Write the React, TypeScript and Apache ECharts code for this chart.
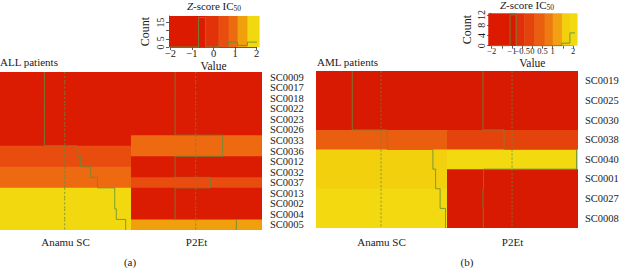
import React, { useEffect, useRef } from 'react';
import * as echarts from 'echarts';

// ---------- data ----------
const columns = ['Anamu SC', 'P2Et'];

const allRows = ['SC0009', 'SC0017', 'SC0018', 'SC0022', 'SC0023', 'SC0026', 'SC0033', 'SC0036', 'SC0012', 'SC0032', 'SC0037', 'SC0013', 'SC0002', 'SC0004', 'SC0005'];
const allAnamu = [-0.65, -0.65, -0.65, -0.65, -0.65, -0.65, -0.65, 0.40, 0.51, 0.83, 1.05, 1.60, 1.60, 1.65, 1.95];
const allP2Et = [-0.66, -0.66, -0.66, -0.66, -0.66, -0.66, 0.86, 0.86, -0.66, -0.66, 0.47, -0.66, -0.66, -0.66, 1.30];

const amlRows = ['SC0019', 'SC0025', 'SC0030', 'SC0038', 'SC0040', 'SC0001', 'SC0027', 'SC0008'];
const amlAnamu = [-0.96, -0.96, -0.96, 0.21, 1.73, 1.82, 1.97, 2.15];
const amlP2Et = [-0.97, -0.97, -0.97, -0.27, 2.15, -0.95, -0.97, -0.96];

// colour key (breaks, colours, histogram counts, ticks)
const allKeyEdges = [-2.07, -0.7, -0.37, 0.23, 0.7, 1.12, 1.58, 2.12];
const allKeyColors = ['#dc1a00', '#dc1c02', '#e2320a', '#e84c0e', '#ed6a10', '#f0a00c', '#f2d80e'];
const allKeyCounts = [0, 18, 0, 1, 3, 1, 3];
const allValueTicks = [-2, -1, 0, 1, 2];
const allCountTicks = [0, 5, 10, 15];
const allCountLabels = [0, 5, 15];
const allCountMax = 18;

const amlKeyEdges = [-2.17, -1.1, -0.8, -0.4, 0.1, 0.6, 1.0, 1.45, 1.85, 2.2];
const amlKeyColors = ['#dc1a00', '#d81a02', '#e0300a', '#e4440c', '#ea5e10', '#ee7a12', '#f0a010', '#f2d00e', '#f3da10'];
const amlKeyCounts = [0, 12, 0, 0, 0, 0, 0, 1, 5];
const amlValueTicks = [-2, -1.5, -1, -0.5, 0, 0.5, 1, 1.5, 2];
const amlValueLabels = [-2, -1, -0.5, 0, 0.5, 1, 2];
const amlCountTicks = [0, 4, 8, 12];
const amlCountLabels = [0, 4, 8, 12];
const amlCountMax = 12;

// ---------- styling ----------
const FONT = "'Liberation Serif', 'DejaVu Serif', serif";
const TXT = '#1a1a1a';
const TRACE = '#5f8f3f';
const fmt = (v: number) => (v < 0 ? '\u2212' : '') + String(Math.abs(v));

function heatData(anamu: number[], p2et: number[]) {
  const d: number[][] = [];
  anamu.forEach((v, i) => d.push([0, i, v]));
  p2et.forEach((v, i) => d.push([1, i, v]));
  return d;
}

// cell + value of the next row in the same column (for the step trace)
function traceCells(anamu: number[], p2et: number[]) {
  const d: (number | null)[][] = [];
  [anamu, p2et].forEach((col, j) => {
    col.forEach((v, i) => d.push([j, i, v, i < col.length - 1 ? col[i + 1] : null]));
  });
  return d;
}

function keyBins(edges: number[]) {
  return edges.slice(0, -1).map((e, i) => [e, edges[i + 1], (e + edges[i + 1]) / 2]);
}

function histData(edges: number[], counts: number[]) {
  const d = counts.map((c, i) => [edges[i], c]);
  d.push([edges[edges.length - 1], counts[counts.length - 1]]);
  return d;
}

function pieces(edges: number[], colors: string[]) {
  return colors.map((c, i) => ({
    gte: i === 0 ? -100 : edges[i],
    lt: i === colors.length - 1 ? 100 : edges[i + 1],
    color: c,
  }));
}

function heatSeries(anamu: number[], p2et: number[], axis: number, nRows: number) {
  return {
    type: 'custom',
    xAxisIndex: axis,
    yAxisIndex: axis,
    data: heatData(anamu, p2et),
    encode: { x: 0, y: 1 },
    silent: true,
    z: 2,
    renderItem: (params: any, api: any) => {
      const c = api.coord([api.value(0), api.value(1)]);
      const s = api.size([1, 1]);
      const lastCol = api.value(0) === 1;
      const lastRow = api.value(1) === nRows - 1;
      return {
        type: 'rect',
        shape: {
          x: c[0] - s[0] / 2,
          y: c[1] - s[1] / 2,
          width: s[0] + (lastCol ? 0 : 1),
          height: s[1] + (lastRow ? 0 : 1),
        },
        style: { fill: api.visual('color') },
      };
    },
  };
}

function traceSeries(anamu: number[], p2et: number[], axis: number, edges: number[]) {
  const lo = edges[0];
  const hi = edges[edges.length - 1];
  const frac = (v: number) => (v - lo) / (hi - lo);
  const lineStyle = { stroke: TRACE, lineWidth: 1, opacity: 0.8 };
  return {
    type: 'custom',
    xAxisIndex: axis,
    yAxisIndex: axis,
    data: traceCells(anamu, p2et),
    encode: { x: 0, y: 1 },
    silent: true,
    z: 5,
    renderItem: (params: any, api: any) => {
      const c = api.coord([api.value(0), api.value(1)]);
      const s = api.size([1, 1]);
      const left = c[0] - s[0] / 2;
      const top = c[1] - s[1] / 2;
      const bottom = top + s[1];
      const v = api.value(2);
      const next = api.value(3);
      const x = left + frac(v) * s[0];
      const xc = left + frac(0) * s[0];
      const children: any[] = [
        { type: 'line', shape: { x1: xc, y1: top, x2: xc, y2: bottom }, style: { ...lineStyle, lineDash: [2, 2] } },
        { type: 'line', shape: { x1: x, y1: top, x2: x, y2: bottom }, style: lineStyle },
      ];
      if (next !== null && next !== undefined && !isNaN(next)) {
        const xn = left + frac(next) * s[0];
        children.push({ type: 'line', shape: { x1: x, y1: bottom, x2: xn, y2: bottom }, style: lineStyle });
      }
      return { type: 'group', children };
    },
  };
}

function keyRectSeries(edges: number[], ymax: number, axis: number) {
  return {
    type: 'custom',
    xAxisIndex: axis,
    yAxisIndex: axis,
    data: keyBins(edges),
    silent: true,
    z: 1,
    renderItem: (params: any, api: any) => {
      const p0 = api.coord([api.value(0), ymax]);
      const p1 = api.coord([api.value(1), 0]);
      return {
        type: 'rect',
        shape: { x: p0[0], y: p0[1], width: p1[0] - p0[0] + 0.5, height: p1[1] - p0[1] },
        style: { fill: api.visual('color') },
      };
    },
  };
}

function histSeries(edges: number[], counts: number[], axis: number) {
  return {
    type: 'line',
    xAxisIndex: axis,
    yAxisIndex: axis,
    data: histData(edges, counts),
    step: 'end',
    showSymbol: false,
    symbol: 'none',
    silent: true,
    clip: false,
    z: 4,
    lineStyle: { color: TRACE, width: 1, opacity: 0.85 },
  };
}

const axisLineStyle = { color: '#333', width: 0.8 };

function keyXAxis(grid: number, interval: number, ticks: number[], labels: number[], fontSize: number, nameGap: number) {
  return {
    type: 'value',
    gridIndex: grid,
    min: -2,
    max: 2,
    interval,
    axisLine: { show: true, onZero: false, lineStyle: axisLineStyle },
    axisTick: { show: true, length: 3, lineStyle: axisLineStyle, customValues: ticks },
    axisLabel: { margin: 1, fontSize, fontFamily: FONT, color: TXT, customValues: labels, formatter: fmt, hideOverlap: false },
    splitLine: { show: false },
    name: 'Value',
    nameLocation: 'middle',
    nameGap,
    nameTextStyle: { fontSize: 11.5, fontFamily: FONT, color: TXT },
  };
}

function keyYAxis(grid: number, ymax: number, ticks: number[], labels: number[], fontSize: number, nameGap: number) {
  return {
    type: 'value',
    gridIndex: grid,
    min: 0,
    max: ymax,
    offset: 1.5,
    axisLine: { show: true, onZero: false, lineStyle: axisLineStyle },
    axisTick: { show: true, length: 3, lineStyle: axisLineStyle, customValues: ticks },
    axisLabel: { margin: 4, rotate: 90, fontSize, fontFamily: FONT, color: TXT, customValues: labels },
    splitLine: { show: false },
    name: 'Count',
    nameLocation: 'middle',
    nameRotate: 90,
    nameGap,
    nameTextStyle: { fontSize: 12, fontFamily: FONT, color: TXT },
  };
}

function text(x: number, y: number, t: string, size: number, align: string) {
  return {
    type: 'text',
    x,
    y,
    silent: true,
    style: {
      text: t,
      fill: TXT,
      fontSize: size,
      fontFamily: FONT,
      align,
      textAlign: align,
      verticalAlign: 'middle',
      textVerticalAlign: 'middle',
    },
  };
}

function keyTitle(x: number, y: number) {
  return {
    type: 'text',
    x,
    y,
    silent: true,
    style: {
      text: '{it|Z}{n|-score IC}{sub|50}',
      fill: TXT,
      fontSize: 11,
      fontFamily: FONT,
      align: 'center',
      textAlign: 'center',
      verticalAlign: 'middle',
      textVerticalAlign: 'middle',
      rich: {
        it: { fontSize: 11, fontFamily: FONT, fontStyle: 'italic', fill: TXT, color: TXT, lineHeight: 13, verticalAlign: 'middle' },
        n: { fontSize: 11, fontFamily: FONT, fill: TXT, color: TXT, lineHeight: 13, verticalAlign: 'middle' },
        sub: { fontSize: 7.5, fontFamily: FONT, fill: TXT, color: TXT, lineHeight: 9, verticalAlign: 'bottom' },
      },
    },
  };
}

export default function App() {
  const ref = useRef<HTMLDivElement>(null);
  useEffect(() => {
    if (!ref.current) return;
    const chart = echarts.init(ref.current, undefined, { renderer: 'svg' });
    const nAll = allRows.length;
    const nAml = amlRows.length;
    const allYMax = allCountMax / 0.95;
    const amlYMax = amlCountMax / 0.95;

    const catLabel = (margin: number) => ({ margin, fontSize: 11, fontFamily: FONT, color: TXT, interval: 0 });
    const rowLabel = (margin: number) => ({ margin, fontSize: 10.5, fontFamily: FONT, color: TXT, interval: 0, hideOverlap: false });
    const catBase = { axisLine: { show: false }, axisTick: { show: false }, splitLine: { show: false }, splitArea: { show: false } };

    const option: any = {
      animation: false,
      backgroundColor: '#ffffff',
      textStyle: { fontFamily: FONT },
      grid: [
        { left: 0, top: 72, width: 262, height: 158, outerBoundsMode: 'none' },
        { left: 316, top: 71, width: 262, height: 157, outerBoundsMode: 'none' },
        { left: 170.5, top: 16, width: 86, height: 31, outerBoundsMode: 'none' },
        { left: 491.7, top: 13.3, width: 81.3, height: 32.4, outerBoundsMode: 'none' },
      ],
      xAxis: [
        { type: 'category', gridIndex: 0, data: columns, position: 'bottom', ...catBase, axisLabel: catLabel(6) },
        { type: 'category', gridIndex: 1, data: columns, position: 'bottom', ...catBase, axisLabel: catLabel(8) },
        keyXAxis(2, 1, allValueTicks, allValueTicks, 10.5, 13),
        keyXAxis(3, 0.5, amlValueTicks, amlValueLabels, 8.5, 11),
      ],
      yAxis: [
        { type: 'category', gridIndex: 0, data: allRows, inverse: true, position: 'right', ...catBase, axisLabel: rowLabel(8) },
        { type: 'category', gridIndex: 1, data: amlRows, inverse: true, position: 'right', ...catBase, axisLabel: rowLabel(7) },
        keyYAxis(2, allYMax, allCountTicks, allCountLabels, 10, 18),
        keyYAxis(3, amlYMax, amlCountTicks, amlCountLabels, 10, 17),
      ],
      visualMap: [
        { type: 'piecewise', show: false, seriesIndex: [0, 4], dimension: 2, pieces: pieces(allKeyEdges, allKeyColors) },
        { type: 'piecewise', show: false, seriesIndex: [1, 6], dimension: 2, pieces: pieces(amlKeyEdges, amlKeyColors) },
      ],
      series: [
        heatSeries(allAnamu, allP2Et, 0, nAll),
        heatSeries(amlAnamu, amlP2Et, 1, nAml),
        traceSeries(allAnamu, allP2Et, 0, allKeyEdges),
        traceSeries(amlAnamu, amlP2Et, 1, amlKeyEdges),
        keyRectSeries(allKeyEdges, allYMax, 2),
        histSeries(allKeyEdges, allKeyCounts, 2),
        keyRectSeries(amlKeyEdges, amlYMax, 3),
        histSeries(amlKeyEdges, amlKeyCounts, 3),
      ],
      graphic: [
        text(0, 62, 'ALL patients', 11, 'left'),
        text(317, 62, 'AML patients', 11, 'left'),
        text(130, 262, '(a)', 11, 'center'),
        text(467, 262, '(b)', 11, 'center'),
        keyTitle(214, 6),
        keyTitle(527, 5),
      ],
    };
    chart.setOption(option);
    return () => chart.dispose();
  }, []);
  return (
    <div
      ref={ref}
      style={{ position: 'fixed', left: 0, top: 0, width: 619, height: 268, background: '#fff' }}
    />
  );
}
